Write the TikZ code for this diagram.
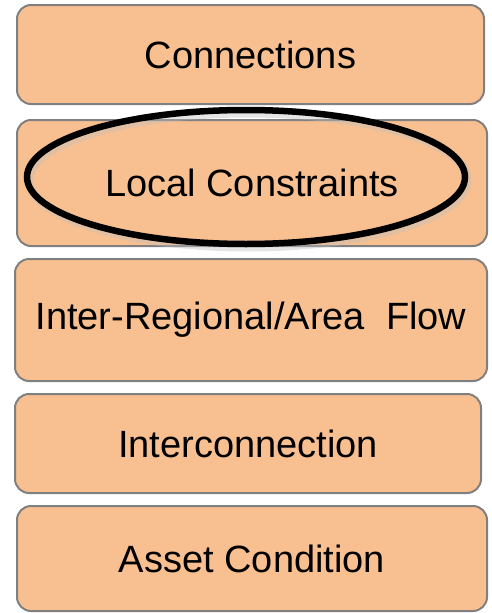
\documentclass[tikz,border=0pt]{standalone}
\usepackage{fontspec}
\setmainfont{Liberation Sans}
\usetikzlibrary{shapes.geometric}
\definecolor{peach}{RGB}{248,192,144}
\definecolor{edgegray}{RGB}{128,128,128}
\tikzset{
	layer/.style={draw=edgegray, line width=2pt, fill=peach, rounded corners=14pt,
		inner sep=0pt, font=\fontsize{38}{45}\selectfont},
	ring/.style={ellipse, draw=black, line width=6.5pt, inner sep=0pt,
		minimum width=438pt, minimum height=134pt}
}
\newcommand{\drawlayer}[6]{   % name, x1, y1, x2, y2, text
	\node[layer, minimum width=#4-#2, minimum height=#5-#3] (#1) at ({(#2+#4)/2}, {(#3+#5)/2}) {#6};
}

\begin{document}
\begin{tikzpicture}[x=1pt, y=-1pt]

\useasboundingbox (0, 0) rectangle (491, 613);

\drawlayer{connections}{17}{5}{484}{104}{Connections};
\drawlayer{local}{17}{120}{487}{246}{Local Constraints};
\drawlayer{flow}{15}{259}{487}{381}{Inter-Regional/Area\ \ Flow};
\drawlayer{interconn}{15}{394}{481}{493}{Interconnection};
\drawlayer{asset}{17}{506}{487}{611}{Asset Condition};

% highlight round the local layer
\node[ring, draw=black!25, opacity=0.4, line width=9pt] (ringshadow) at (248, 180) {};
\node[ring] (ring) at (246, 177) {};

\end{tikzpicture}
\end{document}
